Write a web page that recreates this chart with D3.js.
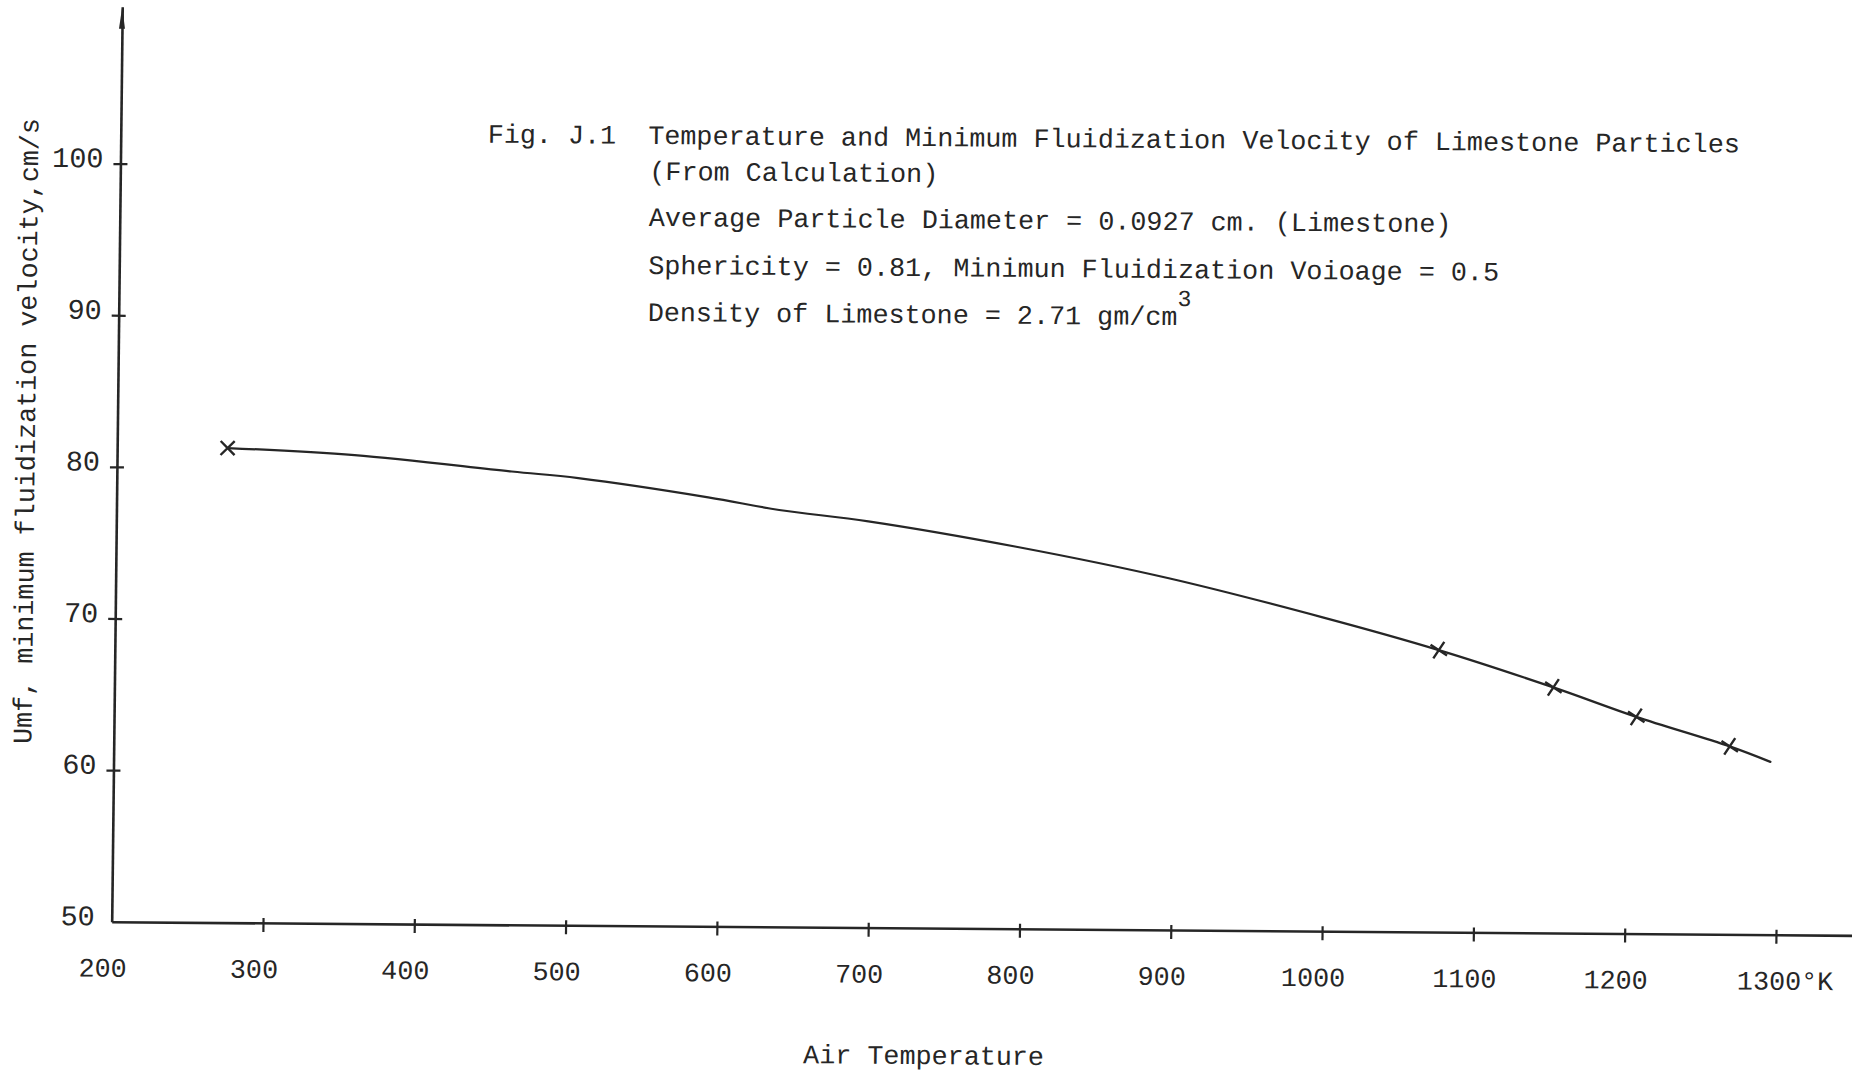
<!DOCTYPE html>
<html>
<head>
<meta charset="utf-8">
<script src="https://cdn.jsdelivr.net/npm/d3@7"></script>
<style>
  html, body { margin: 0; padding: 0; background: #fff; }
  svg { display: block; }
</style>
</head>
<body>
<svg id="chart" width="1852" height="1073"></svg>
<script>
// ---- data -------------------------------------------------------------
const temperatureTicks = [200, 300, 400, 500, 600, 700, 800, 900, 1000, 1100, 1200, 1300];
const velocityTicks = [50, 60, 70, 80, 90, 100];

// smooth calculated curve, air temperature (K) vs Umf (cm/s)
const curveTemps = [273, 357, 461, 505, 591, 638, 697, 795, 896, 998, 1075, 1151, 1206, 1268, 1295];
const curveUmf   = [81.3, 80.9, 79.9, 79.5, 78.3, 77.5, 76.8, 75.2, 73.2, 70.7, 68.6, 66.2, 64.3, 62.4, 61.4];

// calculated points marked with crosses
const calcTemps = [273, 1075, 1151, 1206, 1268];
const calcUmf   = [81.3, 68.6, 66.2, 64.3, 62.4];

const titleText = "Fig. J.1  Temperature and Minimum Fluidization Velocity of Limestone Particles";
const noteLines = [
  "(From Calculation)",
  "Average Particle Diameter = 0.0927 cm. (Limestone)",
  "Sphericity = 0.81, Minimun Fluidization Voioage = 0.5"
];
const densityText = "Density of Limestone = 2.71 gm/cm";
const densityExp = "3";
const xLabel = "Air Temperature";
const yLabel = "Umf, minimum fluidization velocity,cm/s";

// ---- drawing ----------------------------------------------------------
const W = 1852, H = 1073;
const ink = "#262626";
const mono = "'Liberation Mono', 'DejaVu Sans Mono', monospace";
const fs = 26.75;

const svg = d3.select("#chart");
svg.append("rect").attr("width", W).attr("height", H).attr("fill", "#fff");

// the typed sheet sits slightly turned; everything is laid out in the sheet's own frame,
// with the origin at the axes corner
const frame = svg.append("g")
  .attr("transform", "translate(111.7,921.7) rotate(0.45) skewX(-0.21)");

const x = d3.scaleLinear().domain([200, 1352]).range([0, 1743]);
const y = d3.scaleLinear().domain([50, 110.35]).range([0, -915]);

// x axis
const xAxis = d3.axisBottom(x)
  .tickValues(temperatureTicks)
  .tickSize(9)
  .tickSizeOuter(0)
  .tickFormat(d => d === 1300 ? "1300\u00B0K" : String(d));
const gx = frame.append("g").call(xAxis)
  .attr("font-family", mono).attr("font-size", fs);
gx.select(".domain").attr("stroke", ink).attr("stroke-width", 2.6);
gx.selectAll(".tick line")
  .attr("y1", -5).attr("y2", 9)
  .attr("stroke", ink).attr("stroke-width", 2.2)
  .attr("opacity", d => d === 200 ? 0 : 1);
gx.selectAll(".tick text")
  .attr("y", 55).attr("dy", 0).attr("dx", -9)
  .attr("fill", ink);
gx.selectAll(".tick text").filter(d => d === 1300)
  .attr("text-anchor", "start").attr("x", -39).attr("dx", 0);

// y axis
const yAxis = d3.axisLeft(y)
  .tickValues(velocityTicks)
  .tickSize(7)
  .tickSizeOuter(0);
const gy = frame.append("g").call(yAxis)
  .attr("font-family", mono).attr("font-size", 28.5);
gy.select(".domain").attr("stroke", ink).attr("stroke-width", 2.6);
gy.selectAll(".tick line")
  .attr("x1", 7).attr("x2", -7)
  .attr("stroke", ink).attr("stroke-width", 2.2)
  .attr("opacity", d => d === 50 ? 0 : 1);
gy.selectAll(".tick text")
  .attr("x", -17).attr("dy", "0.12em")
  .attr("fill", ink);

// small arrowhead at the top of the vertical axis
const yTop = y(110.35);
frame.append("path")
  .attr("d", `M0,${yTop} L-3,${yTop + 22} L3,${yTop + 22} Z`)
  .attr("fill", ink);

// calculated curve
const curvePts = curveTemps.map((t, i) => ({ t, u: curveUmf[i] }));
const line = d3.line()
  .x(d => x(d.t))
  .y(d => y(d.u))
  .curve(d3.curveCatmullRom.alpha(0.5));
frame.append("path")
  .datum(curvePts)
  .attr("d", line)
  .attr("fill", "none")
  .attr("stroke", ink)
  .attr("stroke-width", 2.2)
  .attr("stroke-linecap", "round");

// cross marks at calculated points
const calcPts = calcTemps.map((t, i) => ({ t, u: calcUmf[i] }));
const cross = d3.symbol(d3.symbolTimes, 130);
frame.selectAll("path.mark")
  .data(calcPts)
  .join("path")
  .attr("class", "mark")
  .attr("transform", (d, i) => `translate(${x(d.t)},${y(d.u)}) rotate(${i === 0 ? 0 : -12})`)
  .attr("d", cross)
  .attr("fill", "none")
  .attr("stroke", ink)
  .attr("stroke-width", 2.4);

// typed captions
const typed = (g) => g
  .attr("font-family", mono)
  .attr("font-size", fs)
  .attr("fill", ink)
  .style("white-space", "pre");

frame.append("text").call(typed)
  .attr("x", 367).attr("y", -782)
  .text(titleText);

const noteY = [-746, -700, -652];
frame.selectAll("text.note")
  .data(noteLines)
  .join("text")
  .attr("class", "note")
  .call(typed)
  .attr("x", 529)
  .attr("y", (d, i) => noteY[i])
  .text(d => d);

const dens = frame.append("text").call(typed)
  .attr("x", 529).attr("y", -605);
dens.append("tspan").text(densityText);
dens.append("tspan").attr("dy", -19).attr("font-size", 23).text(densityExp);

// axis titles
frame.append("text").call(typed)
  .attr("x", 693).attr("y", 136)
  .text(xLabel);

frame.append("text").call(typed)
  .attr("transform", "translate(-82.4,-490) rotate(-90)")
  .attr("text-anchor", "middle")
  .text(yLabel);
</script>
</body>
</html>
